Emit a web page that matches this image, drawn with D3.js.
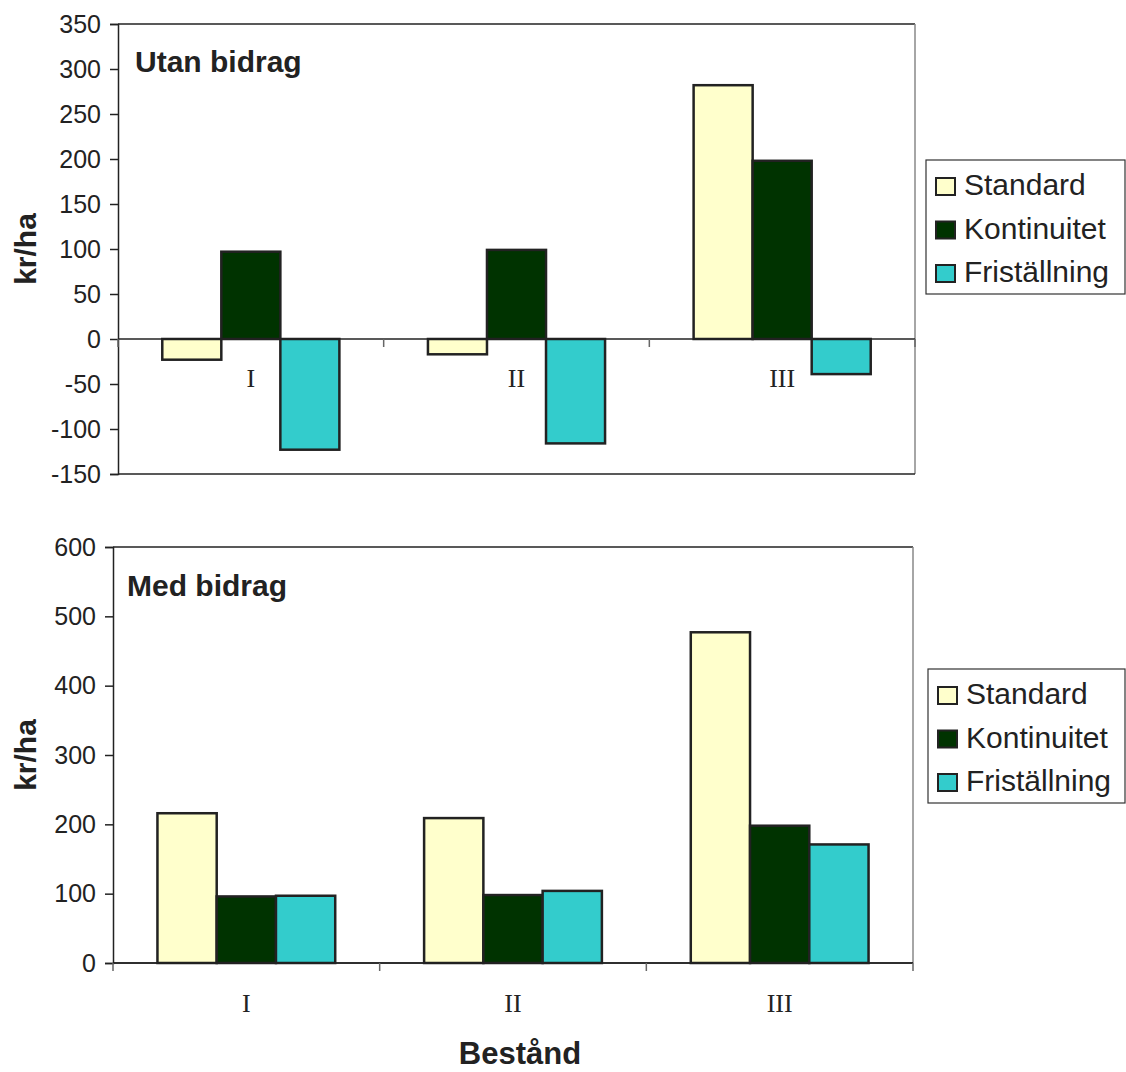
<!DOCTYPE html>
<html>
<head>
<meta charset="utf-8">
<script src="https://d3js.org/d3.v7.min.js"></script>
<style>
  body { margin: 0; background: #fff; }
  svg text { fill: #222; }
</style>
</head>
<body>
<div id="container"></div>
<script type="text/javascript">

var width = 1126, height = 1072;

// data
var categories = ["I", "II", "III"];
var seriesNames = ["Standard", "Kontinuitet", "Friställning"];
var seriesColors = ["#FFFFCC", "#003300", "#33CCCC"];

var utanStandard = [-23, -17, 282];
var utanKontinuitet = [97, 99, 198];
var utanFristallning = [-123, -116, -39];

var medStandard = [216, 209, 477];
var medKontinuitet = [96, 98, 198];
var medFristallning = [97, 104, 171];

var utanTicks = [-150, -100, -50, 0, 50, 100, 150, 200, 250, 300, 350];
var medTicks = [0, 100, 200, 300, 400, 500, 600];

var svg = d3.select('#container')
  .append('svg')
  .attr('width', width)
  .attr('height', height);

function panel(opt){
  var g = svg.append('g');
  var x0 = d3.scaleBand().domain(categories).range([opt.left, opt.right]);
  var bw = x0.bandwidth();
  var gap = bw * 1.5 / 4.5;
  var x1 = d3.scaleBand().domain(seriesNames).range([gap/2, bw - gap/2]);
  var y = d3.scaleLinear().domain(opt.domain).range([opt.bottom, opt.top]);

  // plot frame
  g.append('line').attr('x1', opt.left).attr('x2', opt.right)
    .attr('y1', opt.top).attr('y2', opt.top).attr('stroke', '#222').attr('stroke-width', 1.5);
  g.append('line').attr('x1', opt.right).attr('x2', opt.right)
    .attr('y1', opt.top).attr('y2', opt.bottom).attr('stroke', '#888').attr('stroke-width', 1.5);
  g.append('line').attr('x1', opt.left).attr('x2', opt.right)
    .attr('y1', opt.bottom).attr('y2', opt.bottom).attr('stroke', '#222').attr('stroke-width', 1.5);

  var rows = [];
  opt.values.forEach(function(vals, si){
    vals.forEach(function(v, ci){
      rows.push({cat: categories[ci], s: seriesNames[si], c: seriesColors[si], v: v});
    });
  });

  g.selectAll('rect.bar').data(rows).enter().append('rect')
    .attr('class', 'bar')
    .attr('x', function(d){ return x0(d.cat) + x1(d.s); })
    .attr('width', x1.bandwidth())
    .attr('y', function(d){ return y(Math.max(0, d.v)); })
    .attr('height', function(d){ return Math.abs(y(d.v) - y(0)); })
    .attr('fill', function(d){ return d.c; })
    .attr('stroke', '#222')
    .attr('stroke-width', 2.5);

  // y axis
  var yAxis = d3.axisLeft(y).tickValues(opt.ticks).tickSize(8).tickPadding(9)
    .tickFormat(function(d){ return String(d); });
  var ya = g.append('g').attr('transform', 'translate(' + opt.left + ',0)').call(yAxis);
  ya.select('.domain').attr('stroke', '#222').attr('stroke-width', 1.5);
  ya.selectAll('.tick line').attr('stroke', '#222').attr('stroke-width', 1.5);
  ya.selectAll('.tick text')
    .style('font-family', '"Liberation Sans", Arial, sans-serif')
    .style('font-size', '25px')
    .attr('dx', opt.tickDx);

  // category axis at zero
  var y0 = y(0);
  g.append('line').attr('x1', opt.left).attr('x2', opt.right)
    .attr('y1', y0).attr('y2', y0).attr('stroke', '#222').attr('stroke-width', 1.5);
  var bounds = categories.map(function(c){ return x0(c); }).concat([opt.right]);
  g.selectAll('line.ctick').data(bounds).enter().append('line')
    .attr('class', 'ctick')
    .attr('x1', function(d){ return d; }).attr('x2', function(d){ return d; })
    .attr('y1', y0).attr('y2', y0 + 8)
    .attr('stroke', '#666').attr('stroke-width', 1.5);

  g.selectAll('text.cat').data(categories).enter().append('text')
    .attr('class', 'cat')
    .attr('x', function(d){ return x0(d) + bw/2; })
    .attr('y', opt.catY)
    .attr('text-anchor', 'middle')
    .style('font-family', '"Liberation Serif", "Times New Roman", serif')
    .style('font-size', '26px')
    .text(function(d){ return d; });

  // title
  g.append('text').attr('x', opt.titleX).attr('y', opt.titleY)
    .style('font-family', '"Liberation Sans", Arial, sans-serif')
    .style('font-size', '30px').style('font-weight', 'bold')
    .text(opt.title);

  // y label
  g.append('text')
    .attr('transform', 'translate(36,' + opt.ylabY + ') rotate(-90)')
    .attr('text-anchor', 'middle')
    .style('font-family', '"Liberation Sans", Arial, sans-serif')
    .style('font-size', '30px').style('font-weight', 'bold')
    .text('kr/ha');

  // legend
  var L = opt.legend;
  g.append('rect').attr('x', L.x).attr('y', L.y).attr('width', L.w).attr('height', L.h)
    .attr('fill', '#fff').attr('stroke', '#333').attr('stroke-width', 1.2);
  var items = g.selectAll('g.leg').data(seriesNames).enter().append('g')
    .attr('class', 'leg')
    .attr('transform', function(d, i){ return 'translate(' + (L.x + 10) + ',' + (L.y + 35 + i * 43.5) + ')'; });
  items.append('rect').attr('x', 0).attr('y', -17).attr('width', 19).attr('height', 17)
    .attr('fill', function(d, i){ return seriesColors[i]; })
    .attr('stroke', '#222').attr('stroke-width', 2);
  items.append('text').attr('x', 28).attr('y', 0)
    .style('font-family', '"Liberation Sans", Arial, sans-serif')
    .style('font-size', '30px')
    .text(function(d){ return d; });
}

panel({
  left: 118, right: 915, top: 24, bottom: 474,
  domain: [-150, 350], ticks: utanTicks, tickDx: 0,
  values: [utanStandard, utanKontinuitet, utanFristallning],
  catY: 387, title: 'Utan bidrag', titleX: 135, titleY: 72, ylabY: 249,
  legend: {x: 926, y: 160, w: 199, h: 134}
});

panel({
  left: 113, right: 913, top: 547, bottom: 963,
  domain: [0, 600], ticks: medTicks, tickDx: 0,
  values: [medStandard, medKontinuitet, medFristallning],
  catY: 1012, title: 'Med bidrag', titleX: 127, titleY: 596, ylabY: 755,
  legend: {x: 928, y: 669, w: 197, h: 134}
});

svg.append('text').attr('x', 520).attr('y', 1064)
  .attr('text-anchor', 'middle')
  .style('font-family', '"Liberation Sans", Arial, sans-serif')
  .style('font-size', '31px').style('font-weight', 'bold')
  .text('Bestånd');

</script>
</body>
</html>
